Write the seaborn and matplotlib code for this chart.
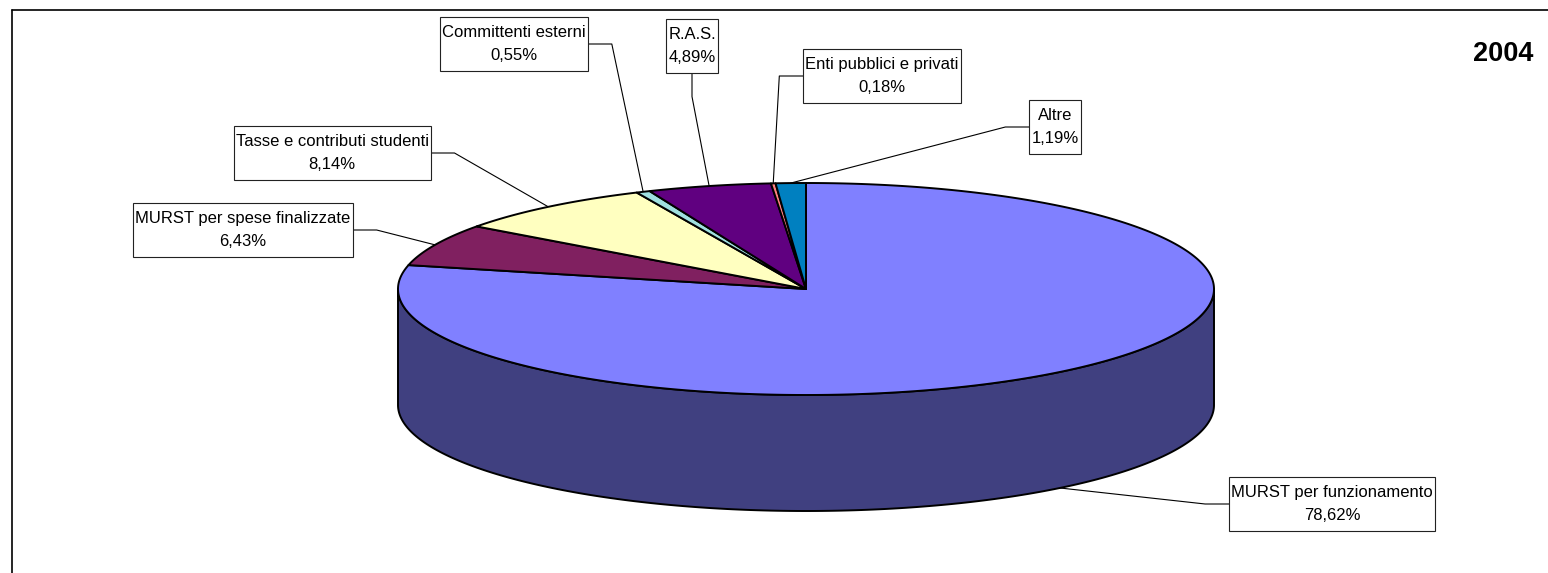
import numpy as np
import matplotlib
matplotlib.use("Agg")
import matplotlib.pyplot as plt
from matplotlib.patches import Polygon, Rectangle
import seaborn as sns

# ---------------- data ----------------
categories = ["MURST per funzionamento", "MURST per spese finalizzate",
              "Tasse e contributi studenti", "Committenti esterni", "R.A.S.",
              "Enti pubblici e privati", "Altre"]
shares = [78.62, 6.43, 8.14, 0.55, 4.89, 0.18, 1.19]
pct_labels = ["78,62%", "6,43%", "8,14%", "0,55%", "4,89%", "0,18%", "1,19%"]
year_label = "2004"

# ---------------- style ----------------
top_colors = ["#8080FF", "#802060", "#FFFFC0", "#A0E0E0", "#600080", "#FF8080", "#0080C0"]

sns.set_theme(style="white")
plt.rcParams["font.family"] = ["Liberation Sans", "DejaVu Sans"]

W, H, DPI = 1548, 573, 100
CX, CY, RX, RY, DEPTH = 806, 289, 408, 106, 116

# label layout: box centre (px) and side where the leader leaves the box
label_layout = [
    (1332, 504, "left"),
    (243, 230, "right"),
    (332, 153, "right"),
    (514, 44, "right"),
    (692, 46, "bottom"),
    (882, 76, "left"),
    (1055, 127, "left"),
]
ELBOW = 24

palette = sns.color_palette(top_colors)
side_palette = [tuple(c * 0.5 for c in col) for col in palette]

fig = plt.figure(figsize=(W / DPI, H / DPI), dpi=DPI)
fig.patch.set_facecolor("white")
ax = fig.add_axes([0, 0, 1, 1])
ax.set_xlim(0, W)
ax.set_ylim(H, 0)
ax.axis("off")


def ell(theta_deg, dy=0.0):
    t = np.radians(theta_deg)
    return CX + RX * np.cos(t), CY - RY * np.sin(t) + dy


total = float(sum(shares))
cum = np.concatenate([[0.0], np.cumsum(shares)]) / total * 360.0
starts = 90.0 - cum[:-1]
ends = 90.0 - cum[1:]

# side faces (front half: theta in [-180, 0] modulo 360)
for i in range(len(shares)):
    for k in (-360, 0, 360):
        lo = max(ends[i], -180 + k)
        hi = min(starts[i], 0 + k)
        if hi > lo:
            th = np.linspace(lo, hi, 200)
            xs, ys = ell(th)
            xb, yb = ell(th[::-1], DEPTH)
            pts = np.column_stack([np.concatenate([xs, xb]), np.concatenate([ys, yb])])
            ax.add_patch(Polygon(pts, closed=True, fc=side_palette[i], ec="black",
                                 lw=1.4, joinstyle="round", zorder=2))

# top faces
for i in range(len(shares)):
    n = max(4, int(abs(starts[i] - ends[i]) * 2))
    th = np.linspace(starts[i], ends[i], n)
    xs, ys = ell(th)
    pts = np.column_stack([np.concatenate([[CX], xs]), np.concatenate([[CY], ys])])
    ax.add_patch(Polygon(pts, closed=True, fc=palette[i], ec="black",
                         lw=1.4, joinstyle="round", zorder=3))

# labels
texts = []
for i, (name, pct) in enumerate(zip(categories, pct_labels)):
    bx, by, _ = label_layout[i]
    t = ax.text(bx, by, f"{name}\n{pct}", ha="center", va="center", ma="center",
                fontsize=12, linespacing=1.6, color="black", zorder=6)
    texts.append(t)

fig.canvas.draw()
r = fig.canvas.get_renderer()
inv = ax.transData.inverted()
PADX, PADY = 2, 8
mids = (starts + ends) / 2.0
for i, t in enumerate(texts):
    bb = t.get_window_extent(r)
    (x0, ya), (x1, yb) = inv.transform([[bb.x0, bb.y0], [bb.x1, bb.y1]])
    top, bot = min(ya, yb) - PADY, max(ya, yb) + PADY
    left, right = x0 - PADX, x1 + PADX
    ax.add_patch(Rectangle((left, top), right - left, bot - top, fc="white",
                           ec="#222222", lw=0.8, zorder=5))
    # anchor on the pie
    ax_, ay_ = ell(mids[i])
    if np.sin(np.radians(mids[i])) < 0:
        ay_ += DEPTH
    side = label_layout[i][2]
    cyb = (top + bot) / 2
    if side == "left":
        p0 = (left, cyb); p1 = (left - ELBOW, cyb)
    elif side == "right":
        p0 = (right, cyb); p1 = (right + ELBOW, cyb)
    else:
        p0 = ((left + right) / 2, bot); p1 = ((left + right) / 2, bot + ELBOW)
    ax.plot([p0[0], p1[0], ax_], [p0[1], p1[1], ay_], color="black", lw=0.8, zorder=1)

# year
ax.text(1533, 54, year_label, ha="right", va="center", fontsize=19.5,
        fontweight="bold", color="black", zorder=6)

# chart area frame (top and left edges visible)
ax.plot([12, W], [10, 10], color="black", lw=1.2, zorder=7)
ax.plot([12, 12], [10, H], color="black", lw=1.2, zorder=7)

fig.savefig("out.png", dpi=DPI, facecolor="white")
